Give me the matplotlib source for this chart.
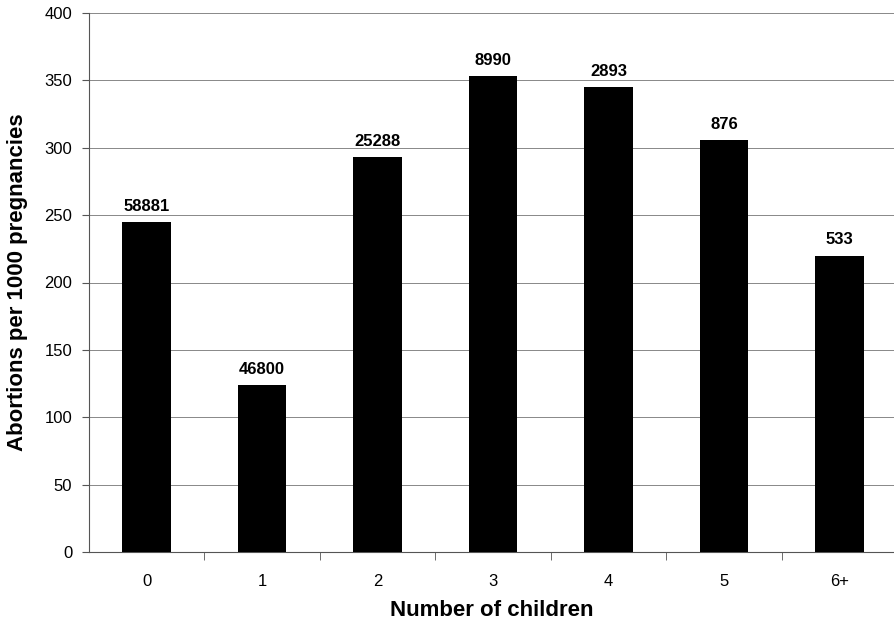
import matplotlib
matplotlib.use("Agg")
import matplotlib.pyplot as plt
import numpy as np

categories = ["0", "1", "2", "3", "4", "5", "6+"]
rates = [245, 124, 293, 353, 345, 306, 220]
counts = ["58881", "46800", "25288", "8990", "2893", "876", "533"]

plt.rcParams['font.family'] = ['Liberation Sans', 'DejaVu Sans']

fig = plt.figure(figsize=(8.94, 6.26), dpi=100)
ax = fig.add_axes([89/894, 74/626, (894-89)/894, (552-13)/626])

x = np.arange(len(categories))
ax.bar(x, rates, width=0.42, color='black', zorder=3)
for xi, v, c in zip(x, rates, counts):
    ax.text(xi, v + 6, c, ha='center', va='bottom', fontsize=12,
            fontweight='bold', zorder=4)

ax.set_xlim(-0.5, 6.47)
ax.set_ylim(0, 400)
ax.set_yticks(np.arange(0, 401, 50))
ax.yaxis.grid(True, color='#888888', linewidth=0.7, zorder=0)
ax.set_axisbelow(True)

ax.set_xticks(x)
ax.set_xticklabels(categories, fontsize=12)
ax.set_xticks(np.arange(0.5, 6.5, 1), minor=True)
ax.tick_params(axis='x', which='major', length=0, pad=16)
ax.tick_params(axis='x', which='minor', length=6, direction='out', color='#555555')
ax.tick_params(axis='y', length=5, direction='out', labelsize=12, pad=7, color='#555555')

for s in ['top', 'right']:
    ax.spines[s].set_visible(False)
ax.spines['left'].set_color('#555555')
ax.spines['bottom'].set_color('#555555')
ax.spines['left'].set_linewidth(0.8)
ax.spines['bottom'].set_linewidth(0.8)

ax.set_xlabel("Number of children", fontsize=16, fontweight='bold', labelpad=8)
ax.set_ylabel("Abortions per 1000 pregnancies", fontsize=16, fontweight='bold', labelpad=12)

fig.savefig("out.png", dpi=100)
